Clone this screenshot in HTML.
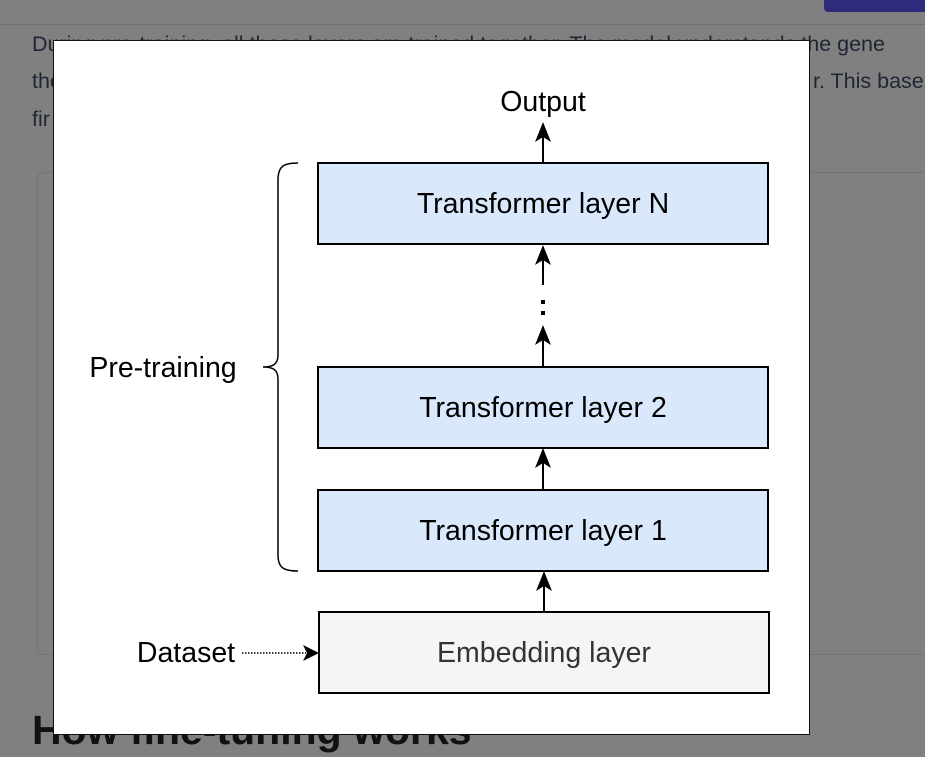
<!DOCTYPE html>
<html><head><style>
html,body{margin:0;padding:0;width:925px;height:757px;overflow:hidden;background:#808080;font-family:"Liberation Sans",sans-serif;}
</style></head><body>
<svg width="925" height="757" xmlns="http://www.w3.org/2000/svg" style="position:absolute;left:0;top:0">
<rect x="0" y="0" width="925" height="757" fill="#808080"/>
<line x1="0" y1="24.5" x2="925" y2="24.5" stroke="#707070"/>
<rect x="824" y="-5" width="110" height="17" rx="4" fill="#2e2a7c"/>
<g font-size="21.5" fill="#1f2533" font-family="Liberation Sans, sans-serif">
<text x="32" y="51">During pre-training, all these layers are trained together. The model understands the gene</text>
<text x="32" y="88">the</text><text x="813" y="88">r. This base</text>
<text x="32" y="126">fir</text>
</g>
<rect x="37.5" y="172.5" width="900" height="482" rx="6" fill="none" stroke="#737373"/>
<text x="32" y="744" font-size="41" font-weight="bold" fill="#111">How fine-tuning works</text>
<rect x="53.5" y="40.5" width="756" height="694" fill="#fff" stroke="#111"/>
<g stroke="#000" stroke-width="2" fill="none">
<line x1="543" y1="163" x2="543" y2="132"/>
<line x1="543" y1="367" x2="543" y2="335"/>
<line x1="543" y1="285" x2="543" y2="255"/>
<line x1="543" y1="490" x2="543" y2="458"/>
<line x1="544" y1="612" x2="544" y2="581"/>
<path d="M298 163 C284 163 278 166 278 180 L278 355 C278 365 272 367 263 367 C272 367 278 369 278 379 L278 555 C278 568 284 571 298 571" stroke-width="1.5"/>
</g>
<g fill="#000">
<path d="M543 122 L535 142 L543 137 L551 142Z"/>
<path d="M543 325 L535 345 L543 340 L551 345Z"/>
<path d="M543 245 L535 265 L543 260 L551 265Z"/>
<path d="M543 448 L535 468 L543 463 L551 468Z"/>
<path d="M544 571 L536 591 L544 586 L552 591Z"/>
<path d="M319 653 L303 645 L307 653 L303 661Z"/>
<rect x="541" y="300" width="4" height="4"/><rect x="541" y="311" width="4" height="4"/>
</g>
<line x1="242" y1="653" x2="306" y2="653" stroke="#000" stroke-width="1.5" stroke-dasharray="1.5 1.5"/>
<g stroke="#000" stroke-width="2">
<rect x="318" y="163" width="450" height="81" fill="#dae8fc"/>
<rect x="318" y="367" width="450" height="81" fill="#dae8fc"/>
<rect x="318" y="490" width="450" height="81" fill="#dae8fc"/>
<rect x="319" y="612" width="450" height="81" fill="#f5f5f5"/>
</g>
<g font-size="28.5" text-anchor="middle" fill="#000">
<text x="543" y="213">Transformer layer N</text>
<text x="543" y="417">Transformer layer 2</text>
<text x="543" y="540">Transformer layer 1</text>
<text x="544" y="662" fill="#333">Embedding layer</text>
<text x="543" y="111">Output</text>
<text x="163" y="377">Pre-training</text>
<text x="186" y="662">Dataset</text>
</g>
</svg>
</body></html>
